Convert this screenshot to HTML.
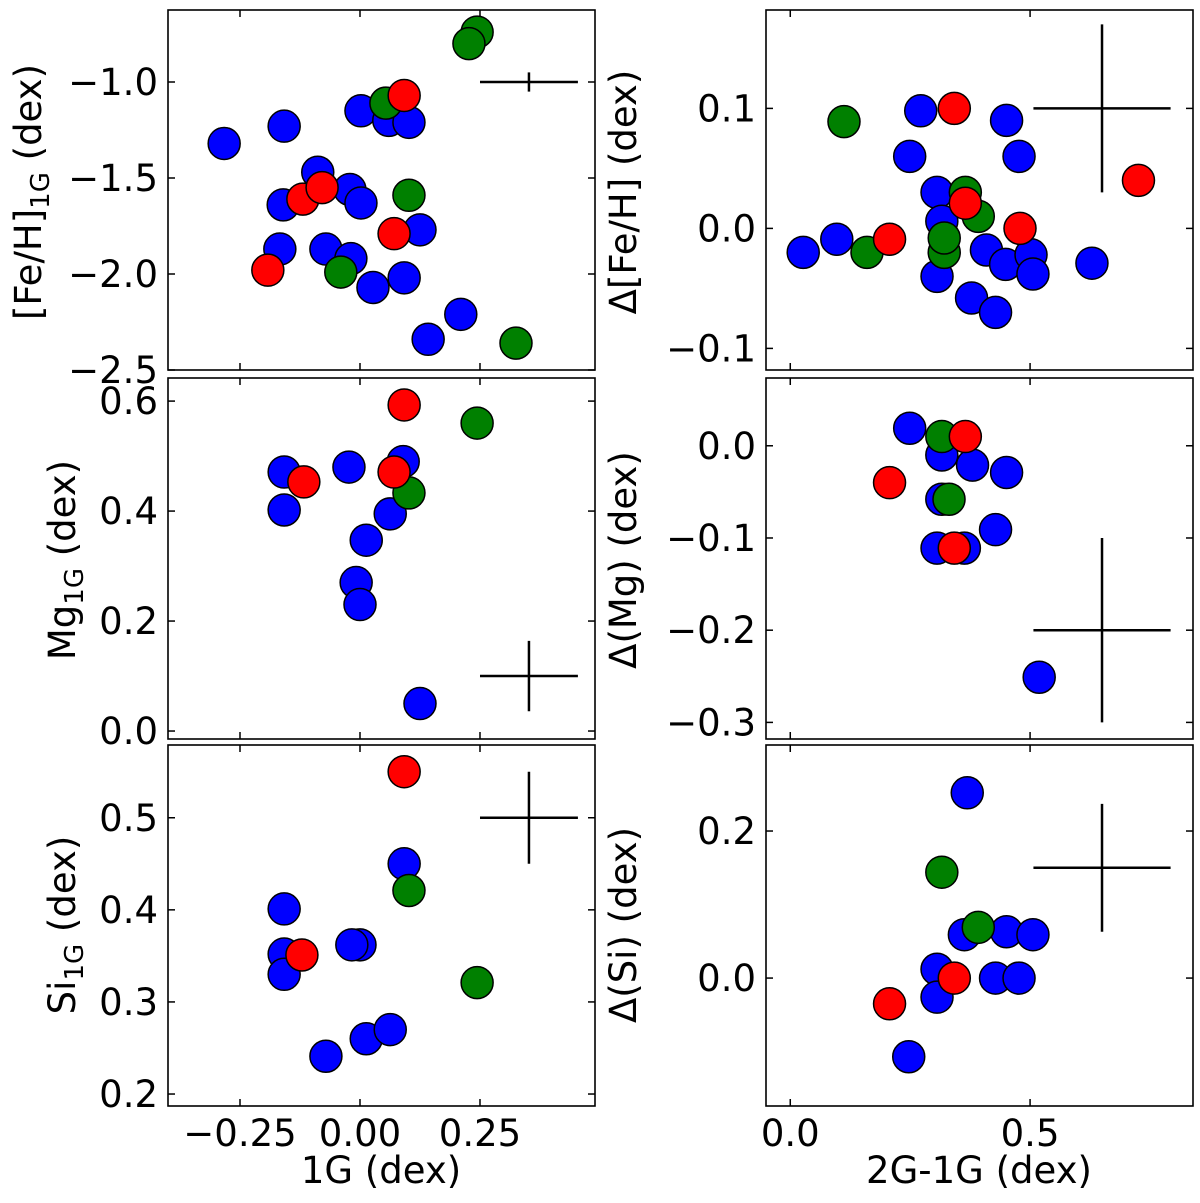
<!DOCTYPE html>
<html><head><meta charset="utf-8"><style>
html,body{margin:0;padding:0;background:#fff;}
svg{display:block;font-family:"DejaVu Sans","Liberation Sans",sans-serif;}
</style></head><body>
<svg id="fig" width="1200" height="1203" viewBox="0 0 1200 1203" xmlns="http://www.w3.org/2000/svg"></svg>
<script>
// ---- data ----
const tlX = [-0.283,-0.158,0.002,0.06,0.102,-0.088,-0.16,-0.021,0.002,-0.167,-0.071,-0.019,0.027,0.092,0.125,0.142,0.21, 0.054,0.244,0.227,0.102,-0.04,0.325, 0.092,-0.119,-0.079,0.071,-0.192];
const tlY = [-1.32,-1.23,-1.15,-1.20,-1.21,-1.47,-1.64,-1.56,-1.63,-1.87,-1.87,-1.92,-2.07,-2.02,-1.77,-2.34,-2.21, -1.11,-0.74,-0.80,-1.59,-1.99,-2.36, -1.07,-1.61,-1.55,-1.79,-1.98];
const tlG = ["1G","1G","1G","1G","1G","1G","1G","1G","1G","1G","1G","1G","1G","1G","1G","1G","1G","2G","2G","2G","2G","2G","2G","3G","3G","3G","3G","3G"];

const trX = [0.272,0.249,0.306,0.316,0.306,0.378,0.428,0.409,0.449,0.502,0.506,0.629,0.027,0.097,0.451,0.477, 0.112,0.16,0.321,0.321,0.365,0.392, 0.342,0.207,0.365,0.479,0.726];
const trY = [0.098,0.06,0.03,0.006,-0.04,-0.058,-0.07,-0.018,-0.03,-0.022,-0.038,-0.029,-0.02,-0.009,0.09,0.06, 0.089,-0.02,-0.02,-0.008,0.03,0.01, 0.1,-0.009,0.021,0.0,0.04];
const trG = ["1G","1G","1G","1G","1G","1G","1G","1G","1G","1G","1G","1G","1G","1G","1G","1G","2G","2G","2G","2G","2G","2G","3G","3G","3G","3G","3G"];

const mlX = [-0.158,-0.158,-0.023,0.09,0.063,0.013,-0.008,0.0,0.125, 0.102,0.244, -0.117,0.092,0.071];
const mlY = [0.471,0.402,0.48,0.49,0.395,0.347,0.27,0.23,0.05, 0.433,0.56, 0.453,0.593,0.471];
const mlG = ["1G","1G","1G","1G","1G","1G","1G","1G","1G","2G","2G","3G","3G","3G"];

const mrX = [0.249,0.316,0.38,0.451,0.316,0.306,0.363,0.428,0.519, 0.316,0.331, 0.207,0.365,0.342];
const mrY = [0.019,-0.01,-0.021,-0.029,-0.058,-0.111,-0.111,-0.091,-0.251, 0.01,-0.058, -0.04,0.01,-0.111];
const mrG = ["1G","1G","1G","1G","1G","1G","1G","1G","1G","2G","2G","3G","3G","3G"];

const blX = [-0.158,-0.158,-0.158,0.0,-0.017,0.013,0.063,-0.071,0.092, 0.102,0.244, 0.092,-0.121];
const blY = [0.401,0.352,0.33,0.362,0.362,0.26,0.27,0.241,0.45, 0.421,0.321, 0.55,0.351];
const blG = ["1G","1G","1G","1G","1G","1G","1G","1G","1G","2G","2G","3G","3G"];

const brX = [0.369,0.306,0.306,0.363,0.451,0.506,0.428,0.477,0.247, 0.316,0.392, 0.207,0.342];
const brY = [0.252,0.012,-0.026,0.059,0.063,0.059,0.0,0.0,-0.107, 0.144,0.069, -0.035,0.0];
const brG = ["1G","1G","1G","1G","1G","1G","1G","1G","1G","2G","2G","3G","3G"];

const leftXTicks = [-0.25,0.0,0.25];
const leftXTickLabels = ["\u22120.25","0.00","0.25"];
const rightXTicks = [0.0,0.5];
const rightXTickLabels = ["0.0","0.5"];
const tlYTicks = [-1.0,-1.5,-2.0,-2.5];
const tlYTickLabels = ["\u22121.0","\u22121.5","\u22122.0","\u22122.5"];
const trYTicks = [0.1,0.0,-0.1];
const trYTickLabels = ["0.1","0.0","\u22120.1"];
const mlYTicks = [0.6,0.4,0.2,0.0];
const mlYTickLabels = ["0.6","0.4","0.2","0.0"];
const mrYTicks = [0.0,-0.1,-0.2,-0.3];
const mrYTickLabels = ["0.0","\u22120.1","\u22120.2","\u22120.3"];
const blYTicks = [0.5,0.4,0.3,0.2];
const blYTickLabels = ["0.5","0.4","0.3","0.2"];
const brYTicks = [0.2,0.0];
const brYTickLabels = ["0.2","0.0"];

// error crosshairs: [cx, cy, xerr, yerr]
const tlErr = [0.352,-1.0,0.102,0.05];
const trErr = [0.65,0.1,0.143,0.07];
const mlErr = [0.352,0.1,0.102,0.064];
const mrErr = [0.65,-0.2,0.143,0.1];
const blErr = [0.352,0.5,0.102,0.05];
const brErr = [0.65,0.15,0.143,0.087];

// ---- drawing ----
const NS = "http://www.w3.org/2000/svg";
const svg = document.getElementById("fig");
const COLORS = {"1G":"#0000ff","2G":"#008000","3G":"#ff0000"};
function mk(tag, attrs, parent){
  const e = document.createElementNS(NS, tag);
  for (const k in attrs) e.setAttribute(k, attrs[k]);
  (parent||svg).appendChild(e);
  return e;
}
function panel(name, box, xr, yr, xs, ys, gs, yt, ytl, xt, xtl, err, showX){
  const g = mk("g", {});
  
  
  const [L,T,R,B] = box;
  const sx = v => L + (v - xr[0]) / (xr[1] - xr[0]) * (R - L);
  const sy = v => B - (v - yr[0]) / (yr[1] - yr[0]) * (B - T);
  // points
  for (let i = 0; i < xs.length; i++){
    const c = mk("circle", {cx: sx(xs[i]), cy: sy(ys[i]), r: 16, fill: COLORS[gs[i]], stroke: "#000", "stroke-width": 1.5}, g);
    
    
  }
  // error bar
  const eg = mk("g", {stroke: "#000", "stroke-width": 2.5}, g);
  
  
  mk("line", {x1: sx(err[0]-err[2]), x2: sx(err[0]+err[2]), y1: sy(err[1]), y2: sy(err[1])}, eg);
  mk("line", {x1: sx(err[0]), x2: sx(err[0]), y1: sy(err[1]-err[3]), y2: sy(err[1]+err[3])}, eg);
  // frame
  const fr = mk("rect", {x: L, y: T, width: R-L, height: B-T, fill: "none", stroke: "#000", "stroke-width": 1.6}, g);
  
  
  // y ticks
  for (let i = 0; i < yt.length; i++){
    const y = sy(yt[i]);
    mk("line", {x1: L, x2: L+7, y1: y, y2: y, stroke: "#000", "stroke-width": 1.5}, g);
    mk("line", {x1: R, x2: R-7, y1: y, y2: y, stroke: "#000", "stroke-width": 1.5}, g);
    const t = mk("text", {x: L-10, y: y+13, "text-anchor": "end", "font-size": 37}, g);
    t.textContent = ytl[i];
    
    
  }
  // x ticks
  for (let i = 0; i < xt.length; i++){
    const x = sx(xt[i]);
    mk("line", {x1: x, x2: x, y1: B, y2: B-7, stroke: "#000", "stroke-width": 1.5}, g);
    mk("line", {x1: x, x2: x, y1: T, y2: T+7, stroke: "#000", "stroke-width": 1.5}, g);
    if (showX){
      const t = mk("text", {x: x, y: B+40, "text-anchor": "middle", "font-size": 37}, g);
      t.textContent = xtl[i];
      
      
    }
  }
}
const LB = [168,595], RB = [766,1193];
const rows = [[10,370],[378,739],[745,1106]];
const lxr = [-0.4,0.4896], rxr = [-0.0506,0.8397];
panel("feh-1g", [LB[0],rows[0][0],LB[1],rows[0][1]], lxr, [-2.5,-0.625], tlX, tlY, tlG, tlYTicks, tlYTickLabels, leftXTicks, leftXTickLabels, tlErr, false);
panel("delta-feh", [RB[0],rows[0][0],RB[1],rows[0][1]], rxr, [-0.118,0.182], trX, trY, trG, trYTicks, trYTickLabels, rightXTicks, rightXTickLabels, trErr, false);
panel("mg-1g", [LB[0],rows[1][0],LB[1],rows[1][1]], lxr, [-0.0145,0.642], mlX, mlY, mlG, mlYTicks, mlYTickLabels, leftXTicks, leftXTickLabels, mlErr, false);
panel("delta-mg", [RB[0],rows[1][0],RB[1],rows[1][1]], rxr, [-0.318,0.0735], mrX, mrY, mrG, mrYTicks, mrYTickLabels, rightXTicks, rightXTickLabels, mrErr, false);
panel("si-1g", [LB[0],rows[2][0],LB[1],rows[2][1]], lxr, [0.187,0.579], blX, blY, blG, blYTicks, blYTickLabels, leftXTicks, leftXTickLabels, blErr, true);
panel("delta-si", [RB[0],rows[2][0],RB[1],rows[2][1]], rxr, [-0.174,0.317], brX, brY, brG, brYTicks, brYTickLabels, rightXTicks, rightXTickLabels, brErr, true);

// axis titles
function title(name, html, x, y, rot){
  const t = mk("text", {x: x, y: y, "text-anchor": "middle", "font-size": 37, transform: rot ? `rotate(-90 ${x} ${y})` : ""});
  t.innerHTML = html;
  
  
}
title("x-axis-title-left", "1G (dex)", 381, 1183, false);
title("x-axis-title-right", "2G-1G (dex)", 979, 1183, false);
title("y-axis-title-feh-1g", '[Fe/H]<tspan font-size="26" dy="8">1G</tspan><tspan dy="-8"> (dex)</tspan>', 41, 192, true);
title("y-axis-title-mg-1g", 'Mg<tspan font-size="26" dy="8">1G</tspan><tspan dy="-8"> (dex)</tspan>', 75, 560, true);
title("y-axis-title-si-1g", 'Si<tspan font-size="26" dy="8">1G</tspan><tspan dy="-8"> (dex)</tspan>', 75, 925, true);
title("y-axis-title-delta-feh", "\u0394[Fe/H] (dex)", 636, 192, true);
title("y-axis-title-delta-mg", "\u0394(Mg) (dex)", 636, 560, true);
title("y-axis-title-delta-si", "\u0394(Si) (dex)", 636, 925, true);
</script>
</body></html>
